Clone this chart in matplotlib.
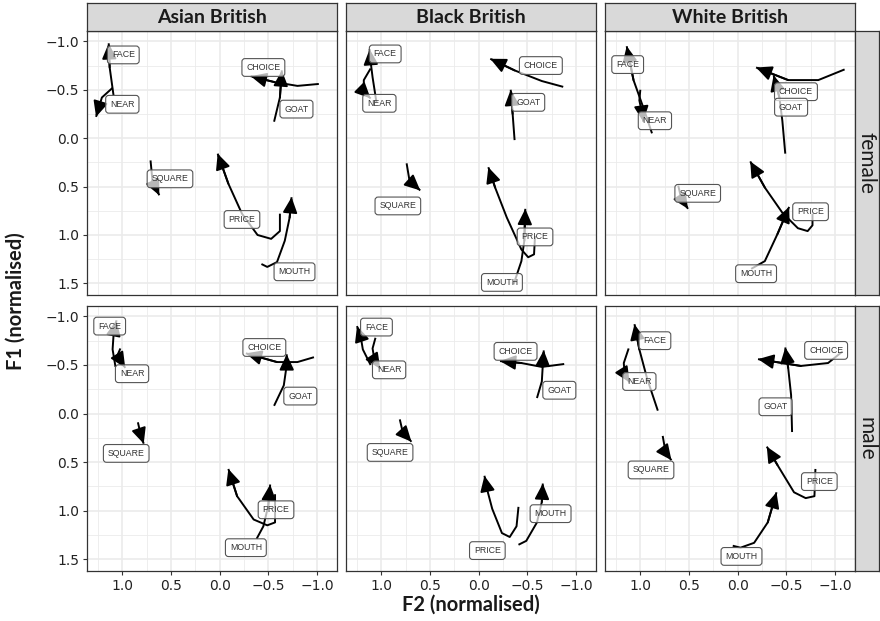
import matplotlib
matplotlib.use("Agg")
import matplotlib.pyplot as plt
from matplotlib.ticker import MultipleLocator, FuncFormatter

# ticks use DejaVu Sans; titles and strips ask for Lato explicitly
plt.rcParams['font.family'] = ['DejaVu Sans']
title_font = ['Lato', 'DejaVu Sans']

ethnicities = ["Asian British", "Black British", "White British"]
genders = ["female", "male"]

# vowel trajectories: vowel -> (F2 values, F1 values), from onset to offset
asian_female = {
    "FACE": ([1.09, 1.13, 1.14], [-0.44, -0.73, -0.98]),
    "NEAR": ([1.10, 1.21, 1.24, 1.27], [-0.52, -0.42, -0.32, -0.22]),
    "CHOICE": ([-1.02, -0.80, -0.56, -0.32], [-0.56, -0.54, -0.58, -0.64]),
    "GOAT": ([-0.56, -0.62, -0.64], [-0.17, -0.42, -0.70]),
    "SQUARE": ([0.71, 0.69, 0.62], [0.23, 0.44, 0.59]),
    "PRICE": ([-0.62, -0.62, -0.53, -0.39, -0.23, -0.09, 0.02], [0.78, 0.96, 1.04, 1.00, 0.78, 0.47, 0.16]),
    "MOUTH": ([-0.43, -0.49, -0.59, -0.67, -0.72, -0.74], [1.30, 1.33, 1.28, 1.06, 0.82, 0.61]),
}
black_female = {
    "FACE": ([1.05, 1.09, 1.11, 1.12], [-0.37, -0.63, -0.79, -0.92]),
    "NEAR": ([1.11, 1.18, 1.18, 1.11], [-0.72, -0.60, -0.48, -0.41]),
    "CHOICE": ([-0.87, -0.65, -0.37, -0.12], [-0.53, -0.59, -0.70, -0.82]),
    "GOAT": ([-0.37, -0.35, -0.33], [0.02, -0.25, -0.50]),
    "SQUARE": ([0.74, 0.71, 0.60], [0.26, 0.44, 0.54]),
    "PRICE": ([-0.58, -0.57, -0.51, -0.44, -0.29, -0.17, -0.10], [1.01, 1.20, 1.23, 1.15, 0.82, 0.51, 0.30]),
    "MOUTH": ([-0.36, -0.44, -0.47, -0.48], [1.51, 1.27, 1.06, 0.73]),
}
white_female = {
    "FACE": ([0.88, 0.96, 1.07, 1.14], [-0.05, -0.29, -0.60, -0.95]),
    "NEAR": ([1.00, 1.01, 0.98, 0.97], [-0.50, -0.39, -0.25, -0.17]),
    "CHOICE": ([-1.10, -0.83, -0.52, -0.19], [-0.71, -0.60, -0.60, -0.73]),
    "GOAT": ([-0.49, -0.46, -0.43, -0.37], [0.16, -0.18, -0.42, -0.65]),
    "SQUARE": ([0.61, 0.58, 0.51], [0.49, 0.62, 0.73]),
    "PRICE": ([-0.77, -0.77, -0.72, -0.62, -0.46, -0.28, -0.13], [0.78, 0.90, 0.96, 0.93, 0.77, 0.51, 0.24]),
    "MOUTH": ([-0.14, -0.28, -0.41, -0.53], [1.35, 1.27, 0.99, 0.71]),
}
asian_male = {
    "FACE": ([1.07, 1.10, 1.09, 1.06], [-0.48, -0.66, -0.81, -0.96]),
    "NEAR": ([1.02, 1.05, 1.02, 0.97], [-0.67, -0.60, -0.55, -0.47]),
    "CHOICE": ([-0.97, -0.80, -0.59, -0.27], [-0.58, -0.53, -0.53, -0.62]),
    "GOAT": ([-0.56, -0.66, -0.69, -0.69], [-0.08, -0.29, -0.50, -0.61]),
    "SQUARE": ([0.84, 0.81, 0.78], [0.09, 0.22, 0.31]),
    "PRICE": ([-0.57, -0.57, -0.49, -0.35, -0.18, -0.09], [0.83, 1.12, 1.15, 1.09, 0.85, 0.57]),
    "MOUTH": ([-0.38, -0.45, -0.50, -0.52], [1.29, 1.16, 0.95, 0.73]),
}
black_male = {
    "FACE": ([1.11, 1.19, 1.21, 1.25], [-0.50, -0.66, -0.78, -0.90]),
    "NEAR": ([1.06, 1.09, 1.07, 1.01], [-0.78, -0.67, -0.55, -0.46]),
    "CHOICE": ([-0.88, -0.65, -0.44, -0.22], [-0.51, -0.48, -0.52, -0.54]),
    "GOAT": ([-0.60, -0.65, -0.66, -0.67], [-0.16, -0.33, -0.50, -0.65]),
    "SQUARE": ([0.81, 0.78, 0.69], [0.06, 0.19, 0.29]),
    "PRICE": ([-0.41, -0.39, -0.32, -0.24, -0.14, -0.09, -0.06], [0.96, 1.16, 1.27, 1.23, 0.98, 0.79, 0.64]),
    "MOUTH": ([-0.41, -0.49, -0.60, -0.65, -0.66], [1.35, 1.31, 1.12, 0.91, 0.72]),
}
white_male = {
    "FACE": ([0.82, 0.93, 1.01, 1.06], [-0.03, -0.36, -0.66, -0.92]),
    "NEAR": ([1.12, 1.17, 1.16, 1.11], [-0.67, -0.52, -0.40, -0.32]),
    "CHOICE": ([-1.08, -0.93, -0.65, -0.21], [-0.64, -0.52, -0.49, -0.56]),
    "GOAT": ([-0.56, -0.55, -0.52, -0.49], [0.19, -0.19, -0.47, -0.68]),
    "SQUARE": ([0.77, 0.74, 0.68], [0.23, 0.40, 0.48]),
    "PRICE": ([-0.80, -0.79, -0.70, -0.58, -0.41, -0.30], [0.57, 0.85, 0.87, 0.81, 0.53, 0.34]),
    "MOUTH": ([0.05, -0.03, -0.17, -0.31, -0.40], [1.36, 1.38, 1.33, 1.12, 0.81]),
}

# label positions (F2, F1)
asian_female_labels = {"FACE": (0.99, -0.86), "NEAR": (1.00, -0.35), "CHOICE": (-0.45, -0.73), "GOAT": (-0.79, -0.30),
                       "SQUARE": (0.51, 0.42), "PRICE": (-0.23, 0.84), "MOUTH": (-0.77, 1.38)}
black_female_labels = {"FACE": (0.96, -0.87), "NEAR": (1.02, -0.36), "CHOICE": (-0.64, -0.75), "GOAT": (-0.51, -0.37),
                       "SQUARE": (0.83, 0.70), "PRICE": (-0.58, 1.02), "MOUTH": (-0.24, 1.49)}
white_female_labels = {"FACE": (1.13, -0.76), "NEAR": (0.85, -0.18), "CHOICE": (-0.60, -0.48), "GOAT": (-0.55, -0.32),
                       "SQUARE": (0.41, 0.57), "PRICE": (-0.75, 0.76), "MOUTH": (-0.19, 1.40)}
asian_male_labels = {"FACE": (1.13, -0.90), "NEAR": (0.90, -0.41), "CHOICE": (-0.46, -0.68), "GOAT": (-0.83, -0.18),
                     "SQUARE": (0.96, 0.41), "PRICE": (-0.58, 0.99), "MOUTH": (-0.27, 1.38)}
black_male_labels = {"FACE": (1.05, -0.89), "NEAR": (0.92, -0.45), "CHOICE": (-0.38, -0.64), "GOAT": (-0.83, -0.24),
                     "SQUARE": (0.91, 0.40), "PRICE": (-0.09, 1.41), "MOUTH": (-0.74, 1.03)}
white_male_labels = {"FACE": (0.85, -0.75), "NEAR": (1.01, -0.33), "CHOICE": (-0.91, -0.65), "GOAT": (-0.39, -0.07),
                     "SQUARE": (0.89, 0.58), "PRICE": (-0.84, 0.70), "MOUTH": (-0.04, 1.47)}

trajectories = [[asian_female, black_female, white_female],
                [asian_male, black_male, white_male]]
labels = [[asian_female_labels, black_female_labels, white_female_labels],
          [asian_male_labels, black_male_labels, white_male_labels]]

W, H = 880, 621
fig = plt.figure(figsize=(W / 100, H / 100), dpi=100)

col_left = [87.3, 346.3, 605.3]
panel_w = 250
row_span = [(30.7, 295.0), (305.7, 571.0)]
border = '#333333'


def fmt(v, pos):
    s = "%.1f" % abs(v)
    return ("\u2212" + s) if v < -1e-9 else s


for r in range(2):
    top, bot = row_span[r]
    for c in range(3):
        ax = fig.add_axes([col_left[c] / W, 1 - bot / H, panel_w / W, (bot - top) / H])
        ax.set_xlim(1.36, -1.21)
        ax.set_ylim(1.62, -1.11)
        for axis in (ax.xaxis, ax.yaxis):
            axis.set_major_locator(MultipleLocator(0.5))
            axis.set_minor_locator(MultipleLocator(0.25))
            axis.set_major_formatter(FuncFormatter(fmt))
        ax.grid(which='major', color='#EBEBEB', lw=1.2)
        ax.grid(which='minor', color='#EBEBEB', lw=0.6)
        ax.set_axisbelow(True)
        for sp in ax.spines.values():
            sp.set_color(border)
            sp.set_linewidth(0.9)
        ax.tick_params(which='minor', length=0)
        ax.tick_params(which='major', length=3, width=0.8, color=border, labelsize=10,
                       labelcolor='#222222', pad=3,
                       left=(c == 0), labelleft=(c == 0),
                       bottom=(r == 1), labelbottom=(r == 1))

        for vowel, (f2, f1) in trajectories[r][c].items():
            ax.plot(f2, f1, color='black', lw=1.4, solid_capstyle='butt', zorder=3)
            ax.annotate("", xy=(f2[-1], f1[-1]), xytext=(f2[-2], f1[-2]),
                        arrowprops=dict(arrowstyle='-|>,head_length=0.47,head_width=0.22',
                                        mutation_scale=20, color='black', lw=1.4,
                                        shrinkA=0, shrinkB=0), zorder=3)
        for vowel, (lx, ly) in labels[r][c].items():
            ax.text(lx, ly, vowel, ha='center', va='center', fontsize=6.3,
                    family=['Liberation Sans', 'DejaVu Sans'], color='#333333', zorder=5,
                    bbox=dict(boxstyle='round,pad=0.5,rounding_size=0.35',
                              fc=(1, 1, 1, 0.72), ec='#555555', lw=0.8))

# column strips
for c in range(3):
    sax = fig.add_axes([col_left[c] / W, 1 - 30.7 / H, panel_w / W, 27.7 / H])
    sax.set_facecolor('#D9D9D9')
    sax.set_xticks([])
    sax.set_yticks([])
    for sp in sax.spines.values():
        sp.set_color(border)
        sp.set_linewidth(0.9)
    sax.text(0.5, 0.47, ethnicities[c], ha='center', va='center', fontsize=14,
             fontweight='bold', family=title_font, color='#1A1A1A', transform=sax.transAxes)

# row strips
for r in range(2):
    top, bot = row_span[r]
    sax = fig.add_axes([(col_left[2] + panel_w) / W, 1 - bot / H, 24 / W, (bot - top) / H])
    sax.set_facecolor('#D9D9D9')
    sax.set_xticks([])
    sax.set_yticks([])
    for sp in sax.spines.values():
        sp.set_color(border)
        sp.set_linewidth(0.9)
    sax.text(0.45, 0.5, genders[r], ha='center', va='center', rotation=-90, fontsize=15,
             family=title_font, color='#1A1A1A', transform=sax.transAxes)

fig.text(471 / W, 1 - 605 / H, "F2 (normalised)", ha='center', va='center',
         fontsize=14.5, fontweight='bold', family=title_font, color='#1A1A1A')
fig.text(16 / W, 1 - 301 / H, "F1 (normalised)", ha='center', va='center', rotation=90,
         fontsize=14.5, fontweight='bold', family=title_font, color='#1A1A1A')

fig.savefig("out.png", dpi=100)
